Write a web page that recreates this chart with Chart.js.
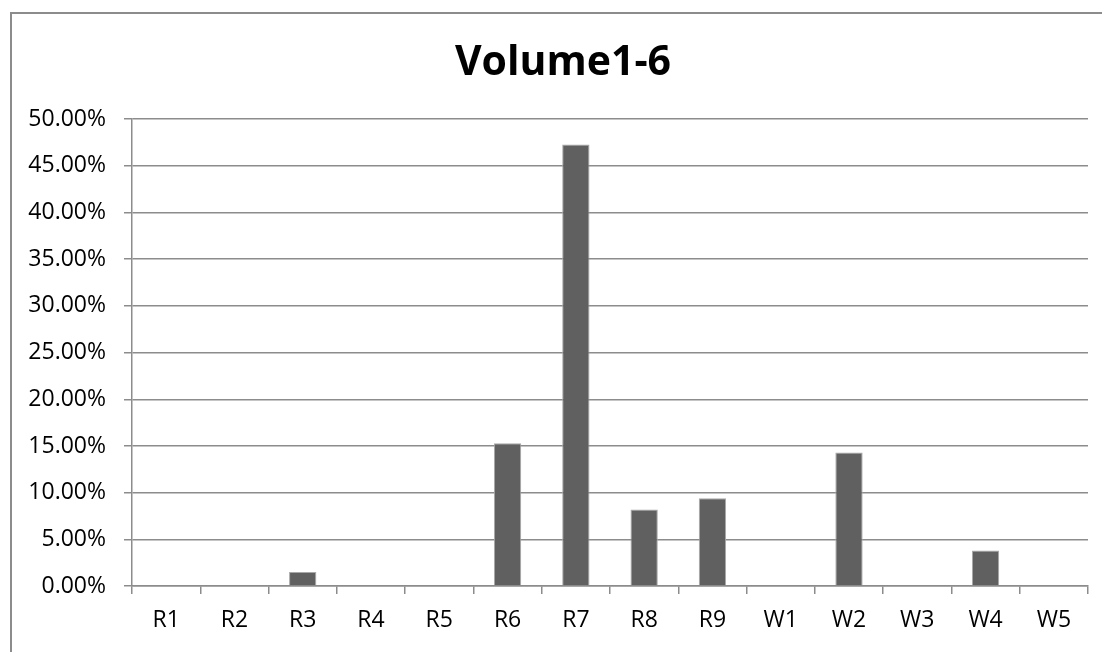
<!DOCTYPE html>
<html>
<head>
<meta charset="utf-8">
<script src="https://cdn.jsdelivr.net/npm/chart.js@4"></script>
<style>
  html, body { margin:0; padding:0; background:#fff; }
  #wrap { position:relative; width:1102px; height:652px; overflow:hidden; }
  #frame { position:absolute; left:10px; top:12px; width:1200px; height:800px; border:2px solid #8c8c8c; box-sizing:border-box; }
  canvas { position:absolute; left:0; top:0; }
</style>
</head>
<body>
<div id="wrap">
  <div id="frame"></div>
  <canvas id="c" width="1102" height="652"></canvas>
</div>
<script>
const categories = ["R1","R2","R3","R4","R5","R6","R7","R8","R9","W1","W2","W3","W4","W5"];
const values = [0, 0, 1.5, 0, 0, 15.3, 47.3, 8.2, 9.4, 0, 14.3, 0, 3.8, 0];
const titleText = "Volume1-6";
const yMin = 0, yMax = 50, yStep = 5;

const font = "'Open Sans', 'DejaVu Sans', sans-serif";
const gridColor = '#8c8c8c';

// shift the title so it is centred over the whole frame, as in the reference
const titleShift = {
  id: 'titleShift',
  afterLayout(chart) {
    if (chart.titleBlock) chart.titleBlock.left = 38;
  }
};

new Chart(document.getElementById('c'), {
  type: 'bar',
  data: {
    labels: categories,
    datasets: [{
      data: values,
      backgroundColor: '#606060',
      borderColor: '#a8a8a8',
      borderWidth: 1,
      barPercentage: 0.4,
      categoryPercentage: 1.0
    }]
  },
  plugins: [titleShift],
  options: {
    responsive: false,
    animation: false,
    layout: { padding: { left: 0, right: 14, top: 0, bottom: 0 } },
    plugins: {
      legend: { display: false },
      tooltip: { enabled: false },
      title: {
        display: true,
        text: titleText,
        color: '#000',
        font: { family: font, size: 41, weight: 'bold', lineHeight: 1.2 },
        padding: { top: 39, bottom: 31 }
      }
    },
    scales: {
      x: {
        afterFit: (s) => { s.height = 66; },
        grid: { drawOnChartArea: false, drawTicks: true, tickLength: 8, color: gridColor, lineWidth: 1.5, offset: true },
        border: { display: true, color: gridColor, width: 1.5 },
        ticks: { color: '#000', font: { family: font, size: 23 }, padding: 13, maxRotation: 0 }
      },
      y: {
        min: yMin, max: yMax,
        afterFit: (s) => { s.width = 132; },
        grid: { drawTicks: true, tickLength: 8, color: gridColor, lineWidth: 1.5 },
        border: { display: true, color: gridColor, width: 1.5 },
        ticks: {
          stepSize: yStep,
          color: '#000',
          font: { family: font, size: 23 },
          padding: 18,
          callback: (v) => v.toFixed(2) + '%'
        }
      }
    }
  }
});
</script>
</body>
</html>
